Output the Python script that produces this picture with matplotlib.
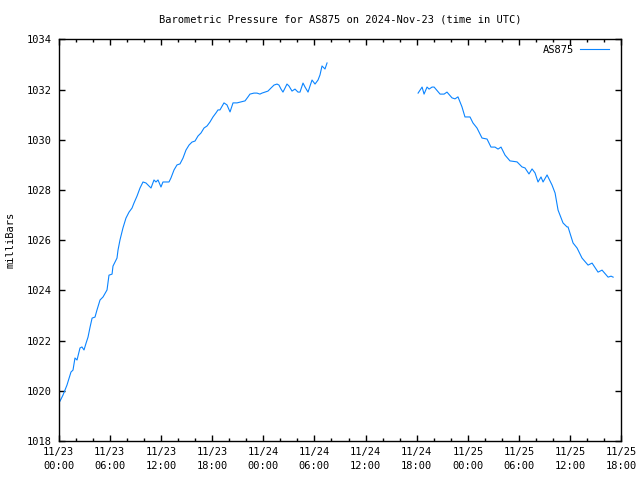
#!/usr/bin/env python3
"""Barometric pressure chart for station AS875 (gnuplot look-alike)."""

import matplotlib
matplotlib.use("Agg")
import matplotlib.pyplot as plt
from matplotlib.ticker import FixedLocator, MultipleLocator

# hours since 2024-11-23 00:00 UTC, first stretch of readings
hours_a = [
    0.15, 0.50, 0.97, 1.44, 1.68, 1.91, 2.15, 2.50, 2.73, 2.97,
    3.21, 3.44, 3.68, 3.92, 4.26, 4.49, 4.85, 5.20, 5.67, 5.90,
    6.26, 6.37, 6.84, 6.96, 7.19, 7.54, 7.89, 8.25, 8.60, 8.83,
    9.19, 9.54, 9.89, 10.24, 10.59, 10.83, 11.18, 11.41, 11.65, 12.00,
    12.23, 12.59, 12.94, 13.17, 13.53, 13.88, 14.23, 14.58, 14.93, 15.29,
    15.64, 15.99, 16.34, 16.69, 17.05, 17.40, 17.75, 18.10, 18.45, 18.69,
    18.92, 19.39, 19.74, 20.10, 20.45, 20.92, 21.39, 21.86, 22.21, 22.44,
    22.91, 23.26, 23.61, 23.85, 24.20, 24.55, 24.90, 25.26, 25.61, 25.84,
    26.08, 26.31, 26.55, 26.78, 27.02, 27.37, 27.72, 28.07, 28.31, 28.66,
    28.90, 29.25, 29.48, 29.72, 30.07, 30.42, 30.65, 30.89, 31.24, 31.48,
]
pressure_a = [
    1019.59, 1019.83, 1020.23, 1020.75, 1020.83, 1021.31, 1021.23, 1021.71, 1021.75, 1021.63,
    1021.90, 1022.14, 1022.54, 1022.90, 1022.94, 1023.22, 1023.62, 1023.74, 1024.02, 1024.61,
    1024.65, 1024.97, 1025.29, 1025.61, 1026.01, 1026.49, 1026.88, 1027.12, 1027.28, 1027.48,
    1027.76, 1028.08, 1028.32, 1028.28, 1028.16, 1028.08, 1028.40, 1028.32, 1028.40, 1028.12,
    1028.32, 1028.32, 1028.32, 1028.48, 1028.80, 1029.00, 1029.04, 1029.27, 1029.59, 1029.79,
    1029.91, 1029.95, 1030.15, 1030.27, 1030.47, 1030.55, 1030.71, 1030.91, 1031.07, 1031.19,
    1031.19, 1031.47, 1031.39, 1031.11, 1031.47, 1031.47, 1031.51, 1031.55, 1031.71, 1031.82,
    1031.86, 1031.86, 1031.82, 1031.86, 1031.90, 1031.94, 1032.06, 1032.18, 1032.22, 1032.18,
    1032.02, 1031.90, 1032.06, 1032.22, 1032.14, 1031.94, 1032.02, 1031.90, 1031.90, 1032.26,
    1032.10, 1031.90, 1032.14, 1032.38, 1032.22, 1032.38, 1032.58, 1032.94, 1032.82, 1033.06,
]

# second stretch, after the gap in reporting
hours_b = [
    42.16, 42.63, 42.86, 43.21, 43.45, 43.80, 44.04, 44.74, 45.21, 45.55,
    46.14, 46.49, 46.84, 47.31, 47.66, 48.25, 48.60, 49.07, 49.66, 50.25,
    50.71, 51.18, 51.54, 51.89, 52.36, 52.94, 53.77, 54.35, 54.70, 55.17,
    55.53, 55.88, 56.23, 56.58, 56.82, 57.29, 57.87, 58.23, 58.58, 59.16,
    59.63, 59.75, 60.34, 60.81, 61.39, 62.10, 62.57, 63.27, 63.74, 64.45,
    64.80, 65.04,
]
pressure_b = [
    1031.86, 1032.10, 1031.82, 1032.10, 1032.02, 1032.10, 1032.10, 1031.82, 1031.82, 1031.90,
    1031.67, 1031.63, 1031.71, 1031.31, 1030.91, 1030.91, 1030.67, 1030.47, 1030.07, 1030.03,
    1029.71, 1029.71, 1029.63, 1029.71, 1029.39, 1029.16, 1029.12, 1028.92, 1028.88, 1028.64,
    1028.84, 1028.68, 1028.32, 1028.52, 1028.32, 1028.60, 1028.20, 1027.88, 1027.20, 1026.69,
    1026.53, 1026.53, 1025.89, 1025.69, 1025.29, 1025.01, 1025.09, 1024.73, 1024.81, 1024.53,
    1024.57, 1024.53,
]

tick_hours = [0, 6, 12, 18, 24, 30, 36, 42, 48, 54, 60, 66]
tick_labels = [
    "11/23\n00:00", "11/23\n06:00", "11/23\n12:00", "11/23\n18:00",
    "11/24\n00:00", "11/24\n06:00", "11/24\n12:00", "11/24\n18:00",
    "11/25\n00:00", "11/25\n06:00", "11/25\n12:00", "11/25\n18:00",
]
y_ticks = [1018, 1020, 1022, 1024, 1026, 1028, 1030, 1032, 1034]

FONT = "DejaVu Sans Mono"
LINE_COLOR = "#0a84ff"

plt.rcParams["font.family"] = FONT
plt.rcParams["font.size"] = 7.5

fig = plt.figure(figsize=(6.4, 4.8), dpi=100)
ax = fig.add_axes([0.0917, 0.081, 0.8791, 0.837])

ax.plot(hours_a, pressure_a, color=LINE_COLOR, linewidth=0.8, label="AS875")
ax.plot(hours_b, pressure_b, color=LINE_COLOR, linewidth=0.8)

ax.set_xlim(0, 66)
ax.set_ylim(1018, 1034)

ax.xaxis.set_major_locator(FixedLocator(tick_hours))
ax.set_xticklabels(tick_labels, linespacing=1.5)
ax.xaxis.set_minor_locator(MultipleLocator(2))
ax.yaxis.set_major_locator(FixedLocator(y_ticks))
ax.set_yticklabels([str(v) for v in y_ticks])

ax.tick_params(which="both", direction="in", top=True, right=True,
               width=1.0, colors="black", labelsize=7.5)
ax.tick_params(which="major", length=4.0)
ax.tick_params(axis="x", which="major", pad=4)
ax.tick_params(axis="y", which="major", pad=5)
ax.tick_params(which="minor", length=2.2)
for spine in ax.spines.values():
    spine.set_linewidth(1.0)

ax.set_title("Barometric Pressure for AS875 on 2024-Nov-23 (time in UTC)",
             fontsize=7.5, pad=12)
fig.text(11 / 640, 0.5, "milliBars", rotation=90, fontsize=7.5,
         ha="center", va="center")

ax.legend(loc="upper right", bbox_to_anchor=(1.0, 1.018), frameon=False,
          markerfirst=False, handlelength=2.8, handletextpad=0.5,
          borderaxespad=0.8, fontsize=7.5)

fig.savefig("out.png", dpi=100)
